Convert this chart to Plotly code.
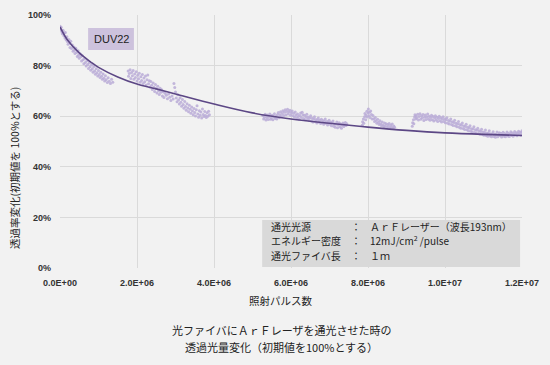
import plotly.graph_objects as go

# ---- data (x in millions of pulses, y in % transmittance) ----
seg1 = [(0.00,95.6),(0.02,94.1),(0.03,95.2),(0.05,93.4),(0.06,92.6),(0.08,94.0),(0.10,91.8),(0.11,92.9),(0.13,90.9),(0.14,93.1),(0.16,90.2),(0.18,91.4),(0.19,89.5),(0.21,88.4),(0.23,90.3),(0.25,88.9),(0.26,87.2),(0.28,89.6),(0.30,86.8),(0.32,88.1),(0.34,85.7),(0.36,87.4),(0.37,86.1),(0.39,84.8),(0.41,86.9),(0.43,85.2),(0.45,83.6),(0.47,85.9),(0.48,84.1),(0.50,82.9),(0.52,84.7),(0.54,83.5),(0.56,81.8),(0.58,83.9),(0.60,82.3),(0.62,80.7),(0.64,82.8),(0.66,81.2),(0.68,79.8),(0.70,81.9),(0.72,80.4),(0.74,78.9),(0.76,81.1),(0.78,79.5),(0.80,78.2),(0.82,80.3),(0.84,78.8),(0.86,77.4),(0.88,79.6),(0.90,77.9),(0.92,76.6),(0.94,78.8),(0.96,77.2),(0.98,75.9),(1.00,78.1),(1.02,76.5),(1.04,75.3),(1.06,77.4),(1.08,75.8),(1.10,74.6),(1.12,76.7),(1.14,75.0),(1.16,73.9),(1.18,76.0),(1.20,74.4),(1.23,73.3),(1.25,75.2),(1.28,73.8),(1.31,72.9),(1.34,74.6),(1.37,73.4)]
seg2 = [(1.77,77.9),(1.78,75.8),(1.80,76.9),(1.82,78.4),(1.84,74.9),(1.86,77.3),(1.88,76.0),(1.90,78.1),(1.92,74.6),(1.94,76.7),(1.96,75.3),(1.98,77.6),(2.00,73.9),(2.02,76.2),(2.04,74.8),(2.06,77.0),(2.08,73.4),(2.10,75.6),(2.12,74.1),(2.14,76.5),(2.16,72.9),(2.18,75.1),(2.20,73.6),(2.22,75.9),(2.24,72.3),(2.26,74.4),(2.28,76.3),(2.30,72.8),(2.32,74.0),(2.34,71.5),(2.36,73.7),(2.38,72.2),(2.40,70.6),(2.42,73.1),(2.44,71.4),(2.46,69.8),(2.48,72.5),(2.50,70.9),(2.52,69.2),(2.54,71.8),(2.56,70.1),(2.58,68.6),(2.60,71.0),(2.62,69.5),(2.64,70.5),(2.66,68.0),(2.68,69.7),(2.70,67.4),(2.73,69.1),(2.76,68.3),(2.79,66.9),(2.82,68.8),(2.85,67.5),(2.88,66.2),(2.91,68.0),(2.94,66.8),(2.96,72.9),(2.98,71.3),(3.00,69.6),(3.02,67.2),(3.04,65.7),(3.06,68.5),(3.08,66.4),(3.10,64.8),(3.12,67.3),(3.14,65.5),(3.16,63.9),(3.18,66.6),(3.20,64.6),(3.22,63.1),(3.24,65.8),(3.26,63.8),(3.28,62.4),(3.30,64.9),(3.32,63.2),(3.34,61.8),(3.36,64.3),(3.38,62.7),(3.40,61.2),(3.42,63.6),(3.44,62.1),(3.46,60.6),(3.48,63.0),(3.50,61.5),(3.52,60.1),(3.54,62.5),(3.56,64.1),(3.58,60.9),(3.60,59.6),(3.62,62.2),(3.64,60.4),(3.66,61.7),(3.68,59.3),(3.70,62.8),(3.72,60.7),(3.74,59.9),(3.76,61.9),(3.78,60.3),(3.80,59.5),(3.82,61.4),(3.84,60.0),(3.86,62.0),(3.88,60.6)]
seg3 = [(5.27,60.2),(5.29,58.9),(5.31,59.7),(5.33,60.8),(5.35,58.5),(5.37,59.5),(5.39,60.5),(5.41,58.7),(5.43,59.9),(5.45,60.9),(5.47,58.8),(5.49,59.3),(5.51,60.4),(5.53,58.6),(5.55,59.8),(5.57,61.0),(5.59,59.1),(5.61,60.1),(5.63,58.9),(5.65,60.7),(5.67,61.5),(5.69,59.4),(5.71,60.6),(5.73,61.8),(5.75,59.9),(5.77,61.1),(5.79,62.2),(5.81,60.3),(5.83,61.6),(5.85,62.5),(5.87,60.6),(5.89,61.9),(5.91,62.7),(5.93,60.9),(5.95,61.8),(5.97,62.4),(5.99,60.4),(6.01,61.4),(6.03,62.1),(6.05,60.2),(6.07,61.2),(6.09,59.7),(6.11,61.7),(6.13,60.5),(6.15,59.3),(6.17,60.9),(6.19,59.9),(6.21,58.8),(6.23,60.3),(6.25,61.3),(6.27,59.5),(6.29,61.6),(6.31,60.6),(6.33,59.1),(6.35,60.4),(6.37,58.6),(6.39,59.8),(6.41,60.8),(6.43,58.9),(6.45,59.7),(6.47,58.3),(6.49,59.4),(6.51,60.2),(6.53,58.1),(6.55,59.2),(6.57,57.7),(6.59,58.9),(6.61,59.8),(6.63,57.9),(6.65,58.7),(6.67,57.3),(6.69,58.5),(6.71,59.3),(6.73,57.6),(6.75,58.4),(6.77,57.1),(6.79,58.8),(6.81,57.5),(6.83,58.3),(6.85,56.8),(6.87,58.0),(6.89,58.9),(6.91,57.2),(6.93,57.9),(6.95,56.5),(6.97,57.7),(6.99,58.4),(7.01,56.8),(7.03,57.6),(7.05,56.2),(7.07,57.3),(7.09,58.1),(7.11,56.0),(7.13,57.0),(7.15,55.6),(7.17,56.8),(7.19,57.7),(7.21,55.4),(7.23,56.6),(7.25,57.4),(7.27,55.8),(7.29,56.9),(7.31,55.2),(7.33,56.4),(7.35,57.3),(7.37,55.9),(7.39,56.7),(7.41,57.5),(7.43,56.3),(7.45,57.0)]
seg4 = [(7.85,56.4),(7.86,57.8),(7.88,58.9),(7.89,57.2),(7.91,59.8),(7.92,61.1),(7.94,58.6),(7.95,60.4),(7.97,62.0),(7.98,59.7),(8.00,61.3),(8.01,62.8),(8.03,60.2),(8.04,61.6),(8.06,59.4),(8.07,62.1),(8.09,60.7),(8.11,58.9),(8.13,60.3),(8.15,59.0),(8.17,57.9),(8.19,59.5),(8.21,58.3),(8.23,57.2),(8.25,58.8),(8.27,57.6),(8.29,56.7),(8.31,58.2),(8.33,57.0),(8.35,56.2),(8.37,57.7),(8.39,56.5),(8.41,55.8),(8.43,57.3),(8.45,56.1),(8.47,57.0),(8.49,55.5),(8.51,56.7),(8.53,55.9),(8.55,57.1),(8.57,55.3),(8.59,56.4),(8.61,55.7),(8.63,56.9),(8.65,55.2),(8.67,56.1),(8.69,55.6)]
seg5 = [(9.15,56.0),(9.16,57.4),(9.18,58.6),(9.19,57.0),(9.21,59.7),(9.22,60.6),(9.24,58.9),(9.25,60.1),(9.27,59.3),(9.29,60.8),(9.31,58.5),(9.33,59.9),(9.35,61.0),(9.37,58.8),(9.39,60.2),(9.41,59.4),(9.43,60.7),(9.45,58.3),(9.47,59.6),(9.49,60.5),(9.51,58.7),(9.53,59.8),(9.55,60.9),(9.57,58.9),(9.59,60.0),(9.61,58.4),(9.63,59.5),(9.65,60.4),(9.67,58.6),(9.69,59.9),(9.71,58.1),(9.73,59.3),(9.75,60.2),(9.77,58.5),(9.79,59.6),(9.81,57.9),(9.83,59.1),(9.85,60.0),(9.87,58.2),(9.89,59.4),(9.91,57.7),(9.93,58.8),(9.95,59.8),(9.97,57.9),(9.99,58.9),(10.01,57.4),(10.03,58.6),(10.05,59.4),(10.07,57.2),(10.09,58.3),(10.11,56.9),(10.13,58.0),(10.15,58.9),(10.17,56.7),(10.19,57.8),(10.21,56.3),(10.23,57.5),(10.25,58.4),(10.27,56.2),(10.29,57.2),(10.31,55.8),(10.33,56.9),(10.35,57.9),(10.37,55.6),(10.39,56.7),(10.41,55.2),(10.43,56.4),(10.45,57.3),(10.47,55.1),(10.49,56.1),(10.51,54.7),(10.53,55.9),(10.55,56.8),(10.57,54.6),(10.59,55.6),(10.61,54.2),(10.63,55.3),(10.65,56.2),(10.67,54.1),(10.69,55.0),(10.71,53.8),(10.73,54.9),(10.75,55.8),(10.77,53.6),(10.79,54.6),(10.81,53.3),(10.83,54.4),(10.85,55.2),(10.87,53.2),(10.89,54.2),(10.91,52.9),(10.93,54.0),(10.95,54.8),(10.97,52.8),(10.99,53.8),(11.01,52.5),(11.03,53.6),(11.05,54.5),(11.07,52.4),(11.09,53.4),(11.11,52.1),(11.13,53.3),(11.15,54.2),(11.17,52.2),(11.19,53.1),(11.21,51.9),(11.23,53.0),(11.25,53.9),(11.27,52.0),(11.29,52.9),(11.31,51.7),(11.33,52.8),(11.35,53.8),(11.37,51.9),(11.39,52.7),(11.41,53.5),(11.43,52.3),(11.45,53.3),(11.47,51.8),(11.49,52.8),(11.51,53.7),(11.53,52.1),(11.55,53.1),(11.57,51.9),(11.59,52.9),(11.61,53.8),(11.63,52.2),(11.65,53.2),(11.67,52.0),(11.69,53.0),(11.71,53.9),(11.73,52.4),(11.75,53.4),(11.77,52.1),(11.79,53.1),(11.81,54.0),(11.83,52.6),(11.85,53.5),(11.87,52.3),(11.89,53.3),(11.91,54.1),(11.93,52.8),(11.95,53.7),(11.97,52.5),(11.99,53.6),(12.00,54.2)]

trend_x_M = [0, 0.2, 0.5, 0.8, 1.0, 1.5, 2.0, 2.5, 3.0, 4.0, 5.0, 6.0, 7.0, 8.0, 9.0, 10.0, 11.0, 12.0]
trend_y = [95.3, 90.0, 85.0, 81.4, 79.3, 75.5, 72.7, 70.8, 68.8, 64.8, 61.3, 58.9, 57.2, 55.7, 54.4, 53.4, 52.8, 52.4]

x_ticks = [0, 2e6, 4e6, 6e6, 8e6, 1e7, 1.2e7]
x_tick_labels = ["0.0E+00", "2.0E+06", "4.0E+06", "6.0E+06", "8.0E+06", "1.0E+07", "1.2E+07"]
y_ticks = [0, 20, 40, 60, 80, 100]
y_tick_labels = ["0%", "20%", "40%", "60%", "80%", "100%"]

info_labels = ["通光光源", "エネルギー密度", "通光ファイバ長"]
info_values = ["ＡｒＦレーザー（波長193nm）", "12mJ/cm<sup>2</sup> /pulse", "１ｍ"]

JP = "Noto Sans CJK JP"
TXT = "#222222"
pts = seg1 + seg2 + seg3 + seg4 + seg5
px = [p[0] * 1e6 for p in pts]
py = [p[1] for p in pts]

fig = go.Figure()
fig.add_trace(go.Scatter(x=px, y=py, mode="markers",
                         marker=dict(size=3, color="#baabd7", opacity=0.85, line=dict(width=0)),
                         showlegend=False, hoverinfo="skip"))
fig.add_trace(go.Scatter(x=[v * 1e6 for v in trend_x_M], y=trend_y, mode="lines",
                         line=dict(color="#5c4785", width=1.6, shape="spline", smoothing=1.0),
                         showlegend=False, hoverinfo="skip"))

# info box
fig.add_shape(type="rect", xref="x", yref="y", x0=5.25e6, x1=1.195e7, y0=0.4, y1=19,
              fillcolor="#d9d9d9", line=dict(width=0), layer="above")
rows_y = [16.6, 10.8, 4.9]
for lab, val, yy in zip(info_labels, info_values, rows_y):
    fig.add_annotation(x=5.42e6, y=yy, xref="x", yref="y", text=lab, showarrow=False,
                       xanchor="left", yanchor="middle", font=dict(family=JP, size=10, color=TXT))
    fig.add_annotation(x=7.5e6, y=yy, xref="x", yref="y", text="：", showarrow=False,
                       xanchor="left", yanchor="middle", font=dict(family=JP, size=10, color=TXT))
    fig.add_annotation(x=8.0e6, y=yy, xref="x", yref="y", text=val, showarrow=False,
                       xanchor="left", yanchor="middle", font=dict(family=JP, size=10, color=TXT))

# DUV22 label
fig.add_shape(type="rect", xref="x", yref="y", x0=0.73e6, x1=1.92e6, y0=86.2, y1=94.9,
              fillcolor="#cdc2dd", line=dict(width=0), layer="above")
fig.add_annotation(x=1.325e6, y=90.55, xref="x", yref="y", text="DUV22", showarrow=False,
                   font=dict(family="Liberation Sans", size=11, color=TXT))

W, H = 550, 365
pl, pr, pt, pb = 60, 28, 15, 97
pw, ph = W - pl - pr, H - pt - pb
def paper_xy(xpix, ypix):
    return (xpix - pl) / pw, (H - pb - ypix) / ph

ax_, ay_ = paper_xy(14, 168)
fig.add_annotation(x=ax_, y=ay_, xref="paper", yref="paper", text="透過率変化(初期値を 100%とする)",
                   textangle=-90, showarrow=False, xanchor="center", yanchor="middle",
                   font=dict(family=JP, size=10.5, color=TXT))
bx, by = paper_xy(281, 300)
fig.add_annotation(x=bx, y=by, xref="paper", yref="paper", text="照射パルス数", showarrow=False,
                   xanchor="center", yanchor="middle", font=dict(family=JP, size=10.5, color=TXT))
c1x, c1y = paper_xy(282, 330)
fig.add_annotation(x=c1x, y=c1y, xref="paper", yref="paper", text="光ファイバにＡｒＦレーザを通光させた時の",
                   showarrow=False, xanchor="center", yanchor="middle", font=dict(family=JP, size=11, color=TXT))
c2x, c2y = paper_xy(281, 347)
fig.add_annotation(x=c2x, y=c2y, xref="paper", yref="paper", text="透過光量変化（初期値を100%とする）",
                   showarrow=False, xanchor="center", yanchor="middle", font=dict(family=JP, size=11, color=TXT))

fig.update_layout(
    width=W, height=H, autosize=False,
    margin=dict(l=pl, r=pr, t=pt, b=pb, autoexpand=False),
    paper_bgcolor="#f2f2f2", plot_bgcolor="#f2f2f2",
    xaxis=dict(range=[0, 1.2e7], tickvals=x_ticks, ticktext=x_tick_labels, automargin=False,
               showgrid=True, gridcolor="#dadada", gridwidth=1, zeroline=False,
               showline=False, ticks="", fixedrange=True, ticklabelstandoff=8,
               tickfont=dict(family="Liberation Sans", size=9, color="#333333", weight="bold")),
    yaxis=dict(range=[0, 100], tickvals=y_ticks, ticktext=y_tick_labels, automargin=False,
               showgrid=True, gridcolor="#dadada", gridwidth=1, zeroline=False,
               showline=False, ticks="", fixedrange=True, ticklabelstandoff=8,
               tickfont=dict(family="Liberation Sans", size=9, color="#333333", weight="bold")),
)

fig.write_html("out.html", config={"displayModeBar": False},
               post_script="document.body.style.margin='0';")
